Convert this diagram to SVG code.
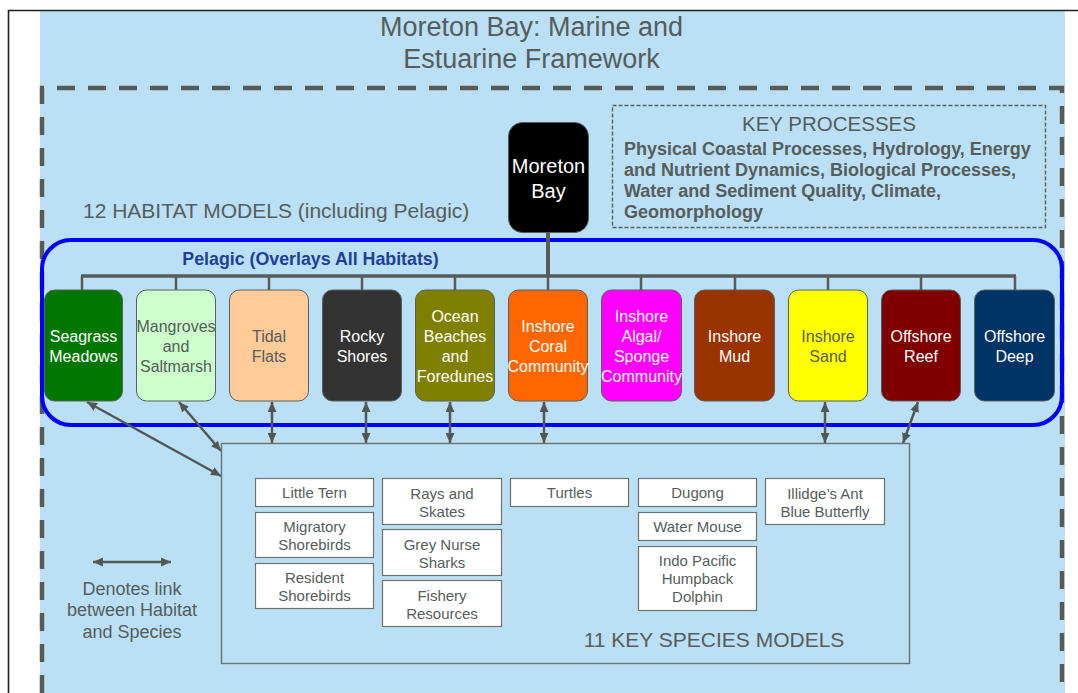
<svg xmlns="http://www.w3.org/2000/svg" width="1078" height="693" viewBox="0 0 1078 693">
  <defs>
    <style>
      .t { font-family: "Liberation Sans", Arial, sans-serif; fill: #565d5a; }
      .w { fill: #ffffff; }
      .hab { stroke: #59605d; stroke-width: 1; }
      .sp { fill: #ffffff; stroke: #6b7370; stroke-width: 1.2; }
      .link { stroke: #515854; stroke-width: 2.5; fill: none; marker-start: url(#ah); marker-end: url(#ah); }
      .tree { stroke: #555b58; fill: none; }
    </style>
    <marker id="ah" viewBox="0 0 10 9" refX="10" refY="4.5" markerWidth="10" markerHeight="9" markerUnits="userSpaceOnUse" orient="auto-start-reverse">
      <path d="M0,0 L10,4.5 L0,9 Z" fill="#515854"/>
    </marker>
  </defs>

  <!-- page frame and background -->
  <rect x="0" y="0" width="1078" height="693" fill="#ffffff"/>
  <rect x="40" y="11" width="1025" height="682" fill="#bbe0f5"/>
  <path d="M8.5,693 V10.5 H1078" fill="none" stroke="#1e1e1e" stroke-width="1.6"/>

  <!-- title -->
  <g id="title" class="t" font-size="27" text-anchor="middle">
    <text x="531.5" y="35.5">Moreton Bay: Marine and</text>
    <text x="531.5" y="67.5">Estuarine Framework</text>
  </g>

  <!-- dashed framework boundary -->
  <path d="M42,693 V88 H1062 V693" fill="none" stroke="#555b58" stroke-width="4.5" stroke-dasharray="18 13"/>

  <!-- key processes -->
  <g id="key-processes">
    <rect x="612.5" y="105.5" width="433" height="122" fill="none" stroke="#5a605d" stroke-width="1.4" stroke-dasharray="4 2"/>
    <text class="t" x="829" y="131" font-size="20.5" text-anchor="middle">KEY PROCESSES</text>
    <g class="t" font-size="18" font-weight="bold">
      <text x="624" y="154.5">Physical Coastal Processes, Hydrology, Energy</text>
      <text x="624" y="175.8">and Nutrient Dynamics, Biological Processes,</text>
      <text x="624" y="197">Water and Sediment Quality, Climate,</text>
      <text x="624" y="218.3">Geomorphology</text>
    </g>
  </g>

  <text id="habitat-heading" class="t" x="83" y="217.5" font-size="21">12 HABITAT MODELS (including Pelagic)</text>

  <!-- pelagic overlay -->
  <g id="pelagic">
    <rect x="42" y="240" width="1020" height="185" rx="29" fill="none" stroke="#0000ff" stroke-width="4"/>
    <text x="310.5" y="264.5" font-family="Liberation Sans, Arial, sans-serif" font-size="17.8" font-weight="bold" fill="#1f3e9c" text-anchor="middle">Pelagic (Overlays All Habitats)</text>
  </g>

  <!-- hierarchy connectors and habitat/species links -->
  <g id="connectors">
    <line class="tree" x1="548" y1="233" x2="548" y2="276" stroke-width="4"/>
    <line class="tree" x1="81" y1="276" x2="1016" y2="276" stroke-width="3.5"/>
    <g class="tree" stroke-width="2.5">
      <line x1="82" y1="276" x2="82" y2="290"/>
      <line x1="176" y1="276" x2="176" y2="290"/>
      <line x1="269" y1="276" x2="269" y2="290"/>
      <line x1="362" y1="276" x2="362" y2="290"/>
      <line x1="455" y1="276" x2="455" y2="290"/>
      <line x1="548" y1="276" x2="548" y2="290"/>
      <line x1="641" y1="276" x2="641" y2="290"/>
      <line x1="735" y1="276" x2="735" y2="290"/>
      <line x1="828" y1="276" x2="828" y2="290"/>
      <line x1="921" y1="276" x2="921" y2="290"/>
      <line x1="1015" y1="276" x2="1015" y2="290"/>
    </g>
    <line class="link" x1="87" y1="402" x2="221" y2="476"/>
    <line class="link" x1="179" y1="402" x2="221" y2="451"/>
    <line class="link" x1="272" y1="402" x2="272" y2="443"/>
    <line class="link" x1="366" y1="402" x2="366" y2="443"/>
    <line class="link" x1="450" y1="402" x2="450" y2="443"/>
    <line class="link" x1="544" y1="402" x2="544" y2="443"/>
    <line class="link" x1="825" y1="402" x2="825" y2="443"/>
    <line class="link" x1="918" y1="402" x2="903" y2="443"/>
  </g>

  <!-- Moreton Bay root -->
  <g id="moreton-bay">
    <rect x="508.5" y="122.5" width="80" height="110" rx="14" fill="#000000" stroke="#555b58" stroke-width="1"/>
    <g class="t w" font-size="20" text-anchor="middle">
      <text x="548.5" y="173">Moreton</text>
      <text x="548.5" y="197.5">Bay</text>
    </g>
  </g>

  <!-- habitat models -->
  <g class="t" font-size="16" text-anchor="middle">
    <g id="seagrass">
      <rect class="hab" x="44.5" y="290" width="78" height="111" rx="10" fill="#007800"/>
      <text class="w" x="83.5" y="341.7">Seagrass</text>
      <text class="w" x="83.5" y="361.7">Meadows</text>
    </g>
    <g id="mangroves">
      <rect class="hab" x="136.5" y="290" width="79" height="111" rx="10" fill="#ccffcc"/>
      <text x="176" y="331.7">Mangroves</text>
      <text x="176" y="351.7">and</text>
      <text x="176" y="371.7">Saltmarsh</text>
    </g>
    <g id="tidal-flats">
      <rect class="hab" x="229.5" y="290" width="79" height="111" rx="10" fill="#ffcc99"/>
      <text x="269" y="341.7">Tidal</text>
      <text x="269" y="361.7">Flats</text>
    </g>
    <g id="rocky-shores">
      <rect class="hab" x="322.5" y="290" width="79" height="111" rx="10" fill="#333333"/>
      <text class="w" x="362" y="341.7">Rocky</text>
      <text class="w" x="362" y="361.7">Shores</text>
    </g>
    <g id="ocean-beaches">
      <rect class="hab" x="415.5" y="290" width="79" height="111" rx="10" fill="#808000"/>
      <text class="w" x="455" y="321.7">Ocean</text>
      <text class="w" x="455" y="341.7">Beaches</text>
      <text class="w" x="455" y="361.7">and</text>
      <text class="w" x="455" y="381.7">Foredunes</text>
    </g>
    <g id="inshore-coral">
      <rect class="hab" x="508.5" y="290" width="79" height="111" rx="10" fill="#ff6600"/>
      <text class="w" x="548" y="331.7">Inshore</text>
      <text class="w" x="548" y="351.7">Coral</text>
      <text class="w" x="548" y="371.7">Community</text>
    </g>
    <g id="inshore-algal">
      <rect class="hab" x="601.5" y="290" width="80" height="111" rx="10" fill="#ff00ff"/>
      <text class="w" x="641.5" y="321.7">Inshore</text>
      <text class="w" x="641.5" y="341.7">Algal/</text>
      <text class="w" x="641.5" y="361.7">Sponge</text>
      <text class="w" x="641.5" y="381.7">Community</text>
    </g>
    <g id="inshore-mud">
      <rect class="hab" x="694.5" y="290" width="80" height="111" rx="10" fill="#993300"/>
      <text class="w" x="734.5" y="341.7">Inshore</text>
      <text class="w" x="734.5" y="361.7">Mud</text>
    </g>
    <g id="inshore-sand">
      <rect class="hab" x="788.5" y="290" width="79" height="111" rx="10" fill="#ffff00"/>
      <text x="828" y="341.7">Inshore</text>
      <text x="828" y="361.7">Sand</text>
    </g>
    <g id="offshore-reef">
      <rect class="hab" x="881.5" y="290" width="79" height="111" rx="10" fill="#800000"/>
      <text class="w" x="921" y="341.7">Offshore</text>
      <text class="w" x="921" y="361.7">Reef</text>
    </g>
    <g id="offshore-deep">
      <rect class="hab" x="974.5" y="290" width="80" height="111" rx="10" fill="#003366"/>
      <text class="w" x="1014.5" y="341.7">Offshore</text>
      <text class="w" x="1014.5" y="361.7">Deep</text>
    </g>
  </g>

  <!-- key species models -->
  <g id="species-models">
    <rect x="221.5" y="443.5" width="688" height="220" fill="none" stroke="#6b7370" stroke-width="1.4"/>
    <text class="t" x="714" y="647" font-size="21" text-anchor="middle">11 KEY SPECIES MODELS</text>
  </g>
  <g class="t" font-size="15" text-anchor="middle">
    <g id="little-tern">
      <rect class="sp" x="255.5" y="478.5" width="118" height="28"/>
      <text x="314.5" y="498">Little Tern</text>
    </g>
    <g id="migratory-shorebirds">
      <rect class="sp" x="255.5" y="512.5" width="118" height="45"/>
      <text x="314.5" y="532">Migratory</text>
      <text x="314.5" y="550">Shorebirds</text>
    </g>
    <g id="resident-shorebirds">
      <rect class="sp" x="255.5" y="563.5" width="118" height="45"/>
      <text x="314.5" y="583">Resident</text>
      <text x="314.5" y="601">Shorebirds</text>
    </g>
    <g id="rays-skates">
      <rect class="sp" x="382.5" y="478.5" width="119" height="46"/>
      <text x="442" y="499">Rays and</text>
      <text x="442" y="516.5">Skates</text>
    </g>
    <g id="grey-nurse-sharks">
      <rect class="sp" x="382.5" y="529.5" width="119" height="46"/>
      <text x="442" y="549.5">Grey Nurse</text>
      <text x="442" y="567.5">Sharks</text>
    </g>
    <g id="fishery-resources">
      <rect class="sp" x="382.5" y="580.5" width="119" height="46"/>
      <text x="442" y="600.5">Fishery</text>
      <text x="442" y="618.5">Resources</text>
    </g>
    <g id="turtles">
      <rect class="sp" x="510.5" y="478.5" width="118" height="28"/>
      <text x="569.5" y="498">Turtles</text>
    </g>
    <g id="dugong">
      <rect class="sp" x="638.5" y="478.5" width="118" height="28"/>
      <text x="697.5" y="498">Dugong</text>
    </g>
    <g id="water-mouse">
      <rect class="sp" x="638.5" y="512.5" width="118" height="28"/>
      <text x="697.5" y="532">Water Mouse</text>
    </g>
    <g id="humpback-dolphin">
      <rect class="sp" x="638.5" y="546.5" width="118" height="64"/>
      <text x="697.5" y="566">Indo Pacific</text>
      <text x="697.5" y="584">Humpback</text>
      <text x="697.5" y="602">Dolphin</text>
    </g>
    <g id="illidges-ant-blue">
      <rect class="sp" x="765.5" y="478.5" width="119" height="46"/>
      <text x="825" y="499">Illidge’s Ant</text>
      <text x="825" y="516.5">Blue Butterfly</text>
    </g>
  </g>

  <!-- legend -->
  <g id="legend">
    <line class="link" x1="93" y1="562" x2="171" y2="562" stroke-width="3"/>
    <g class="t" font-size="18" text-anchor="middle">
      <text x="132" y="594.5">Denotes link</text>
      <text x="132" y="616">between Habitat</text>
      <text x="132" y="637.5">and Species</text>
    </g>
  </g>
</svg>
